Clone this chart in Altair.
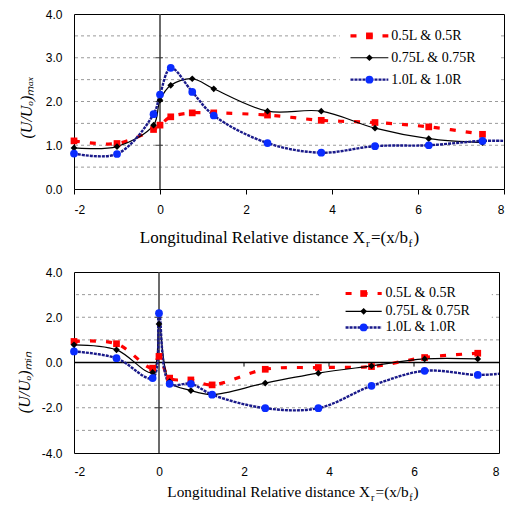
import altair as alt
import pandas as pd

# ---------------- data ----------------
X = [-2.0, -1.0, -0.15, 0.0, 0.25, 0.75, 1.25, 2.5, 3.75, 5.0, 6.25, 7.5]
SERIES = ["0.5L & 0.5R", "0.75L & 0.75R", "1.0L & 1.0R"]

MAX_05 = [1.10, 1.04, 1.36, 1.46, 1.65, 1.74, 1.74, 1.69, 1.57, 1.52, 1.42, 1.25]
MAX_075 = [0.94, 0.97, 1.46, 2.03, 2.37, 2.52, 2.29, 1.78, 1.78, 1.39, 1.15, 1.06]
MAX_10 = [0.81, 0.80, 1.71, 2.16, 2.77, 2.22, 1.68, 1.05, 0.83, 0.98, 1.00, 1.10]

MIN_05 = [0.93, 0.83, -0.25, 0.27, -0.69, -0.77, -0.99, -0.30, -0.22, -0.18, 0.22, 0.41]
MIN_075 = [0.78, 0.56, -0.44, 1.70, -0.84, -1.24, -1.42, -0.91, -0.47, -0.15, 0.16, 0.16]
MIN_10 = [0.49, 0.19, -0.69, 2.18, -0.94, -0.94, -1.42, -2.02, -2.02, -1.03, -0.37, -0.55]

# blue curve continues (without marker) to the right border
TAIL_X = 8.0
MAX_10_TAIL = 1.10
MIN_10_TAIL = -0.50

X_TICKS = [-2, 0, 2, 4, 6, 8]
TOP_Y_LABELS = [0, 1, 2, 3, 4]
TOP_GRID = [0.5, 1.0, 1.5, 2.0, 2.5, 3.0, 3.5]
TOP_AXIS_TICKS = [1, 2, 3]
BOT_Y_LABELS = [-4, -2, 0, 2, 4]
BOT_GRID = [-3, -2, -1, 1, 2, 3]
BOT_AXIS_TICKS = [-2, 2]
BOT_X_CROSS_TICKS = [2, 4, 6]

# ---------------- styles ----------------
STYLE = {
    "0.5L & 0.5R": dict(stroke="#ff0000", dash=[6, 10], width=3.2, shape="square", fill="#ff0000", size=45),
    "0.75L & 0.75R": dict(stroke="#000000", dash=None, width=1.2, shape="diamond", fill="#000000", size=45),
    "1.0L & 1.0R": dict(stroke="#1a1a8a", dash=[3, 1], width=2.4, shape="circle", fill="#0a2cff", size=60),
}
SERIF = "Liberation Serif"
SANS = "Liberation Sans"
NEG = "(datum.value < 0 ? '-' : '') + format(abs(datum.value), '.1f')"
NEGX = "(datum.value < 0 ? '-' : '') + format(abs(datum.value), 'd')"


def make_panel(vals, tail, ydom, ylabels, grid, ytitle, w, h, top_panel,
               legend_rows, legend_x, legend_box, title_pos, title_size,
               title_x, title_y):
    xaxis = alt.Axis(values=X_TICKS, grid=False, domain=False,
                     ticks=top_panel, tickSize=5 if top_panel else 0,
                     tickColor="black", labelPadding=10 if top_panel else 13,
                     labelExpr=NEGX, title=None)
    yaxis = alt.Axis(values=ylabels, grid=False, domain=False, ticks=False, tickSize=0,
                     labelPadding=12, labelExpr=NEG, title=ytitle,
                     titleFont=SERIF, titleFontSize=16, titleFontStyle="italic",
                     titleFontWeight="normal", titleX=title_x, titleY=title_y,
                     titleAlign="center")

    def xe(f):
        return alt.X(f"{f}:Q", scale=alt.Scale(domain=[-2, 8], nice=False, zero=False), axis=xaxis)

    def ye(f):
        return alt.Y(f"{f}:Q", scale=alt.Scale(domain=ydom, nice=False, zero=False), axis=yaxis)

    layers = []
    layers.append(alt.Chart(pd.DataFrame({"g": grid})).mark_rule(
        color="#9a9a9a", strokeDash=[3, 3], strokeWidth=1).encode(y=ye("g")))
    # legend background
    bx0, bx1, by0, by1 = legend_box
    layers.append(alt.Chart(pd.DataFrame({"a": [bx0], "b": [bx1], "c": [by0], "d": [by1]}))
                  .mark_rect(color="white").encode(x=xe("a"), x2="b:Q", y=ye("c"), y2="d:Q"))
    # axis lines crossing at zero
    layers.append(alt.Chart(pd.DataFrame({"z": [0]})).mark_rule(
        color="#3a3a3a", strokeWidth=1.5).encode(x=xe("z")))
    if not top_panel:
        layers.append(alt.Chart(pd.DataFrame({"z": [0]})).mark_rule(
            color="#000000", strokeWidth=1.5).encode(y=ye("z")))
        layers.append(alt.Chart(pd.DataFrame({"t": BOT_X_CROSS_TICKS, "a": [0.0] * 3, "b": [-0.18] * 3}))
                      .mark_rule(color="black", strokeWidth=1).encode(x=xe("t"), y=ye("a"), y2="b:Q"))
        yt = BOT_AXIS_TICKS
    else:
        yt = TOP_AXIS_TICKS
    layers.append(alt.Chart(pd.DataFrame({"t": yt, "a": [-0.1] * len(yt), "b": [0.07] * len(yt)}))
                  .mark_rule(color="#3a3a3a", strokeWidth=1).encode(y=ye("t"), x=xe("a"), x2="b:Q"))

    # data lines
    for name, v in zip(SERIES, vals):
        st = STYLE[name]
        xs = list(X)
        ys = list(v)
        if name == "1.0L & 1.0R":
            xs.append(TAIL_X)
            ys.append(tail)
        kw = dict(color=st["stroke"], strokeWidth=st["width"], interpolate="catmull-rom", clip=True)
        if st["dash"]:
            kw["strokeDash"] = st["dash"]
        layers.append(alt.Chart(pd.DataFrame({"x": xs, "y": ys})).mark_line(**kw)
                      .encode(x=xe("x"), y=ye("y"), order=alt.Order("x:Q")))
    for name, v in zip(SERIES, vals):
        st = STYLE[name]
        layers.append(alt.Chart(pd.DataFrame({"x": X, "y": v})).mark_point(
            shape=st["shape"], filled=True, size=st["size"], color=st["fill"], opacity=1)
            .encode(x=xe("x"), y=ye("y")))

    # legend
    lx0, lx1, ltx = legend_x
    for name, ly in zip(SERIES, legend_rows):
        st = STYLE[name]
        kw = dict(color=st["stroke"], strokeWidth=st["width"])
        if st["dash"]:
            kw["strokeDash"] = st["dash"]
        layers.append(alt.Chart(pd.DataFrame({"a": [lx0], "b": [lx1], "y": [ly]})).mark_rule(**kw)
                      .encode(x=xe("a"), x2="b:Q", y=ye("y")))
        layers.append(alt.Chart(pd.DataFrame({"x": [(lx0 + lx1) / 2], "y": [ly]})).mark_point(
            shape=st["shape"], filled=True, size=st["size"], color=st["fill"], opacity=1)
            .encode(x=xe("x"), y=ye("y")))
        layers.append(alt.Chart(pd.DataFrame({"x": [ltx], "y": [ly], "t": [name]})).mark_text(
            align="left", baseline="middle", font=SERIF, fontSize=14, color="black")
            .encode(x=xe("x"), y=ye("y"), text="t:N"))

    # x-axis title with subscripts
    xm, xr, xeq, xf, xp, yb, ys = title_pos
    sub = title_size * 0.66
    pieces = [("Longitudinal Relative distance X", xm, yb, title_size, "right"),
              ("r", xr, ys, sub, "left"),
              ("=(x/b", xeq, yb, title_size, "left"),
              ("f", xf, ys, sub, "left"),
              (")", xp, yb, title_size, "left")]
    for txt, px, py, fs, al in pieces:
        layers.append(alt.Chart(pd.DataFrame({"k": [0]})).mark_text(
            text=txt, align=al, baseline="alphabetic", font=SERIF, fontSize=fs, color="black")
            .encode(x=alt.value(px), y=alt.value(py)))

    return alt.layer(*layers).properties(width=w, height=h)


top = make_panel([MAX_05, MAX_075, MAX_10], MAX_10_TAIL, [0, 4], TOP_Y_LABELS, TOP_GRID,
                 "(U/Uₒ)ₘₐₓ", 430, 175, True,
                 [3.5, 3.0, 2.5], (4.43, 5.31, 5.38), (4.18, 7.87, 2.2, 3.78),
                 (291, 292, 297, 334.5, 339.5, 229, 233), 17, -40, 93)

bottom = make_panel([MIN_05, MIN_075, MIN_10], MIN_10_TAIL, [-4, 4], BOT_Y_LABELS, BOT_GRID,
                    "(U/Uₒ)ₘᵢₙ", 425, 181, False,
                    [3.05, 2.26, 1.55], (4.39, 5.24, 5.33), (3.82, 7.83, 1.28, 3.58),
                    (296, 297, 301.5, 335.3, 339.5, 225, 229), 15.3, -42, 110)

chart = alt.concat(top, bottom, columns=1, spacing=15).properties(
    align="none",
    padding={"left": 7, "top": -1, "right": 0, "bottom": 0}
).configure_view(stroke="black", strokeWidth=1).configure_axis(
    labelFont=SANS, labelFontSize=12, labelColor="black"
)

chart.save("out.html", embed_options={"renderer": "svg", "actions": False})
